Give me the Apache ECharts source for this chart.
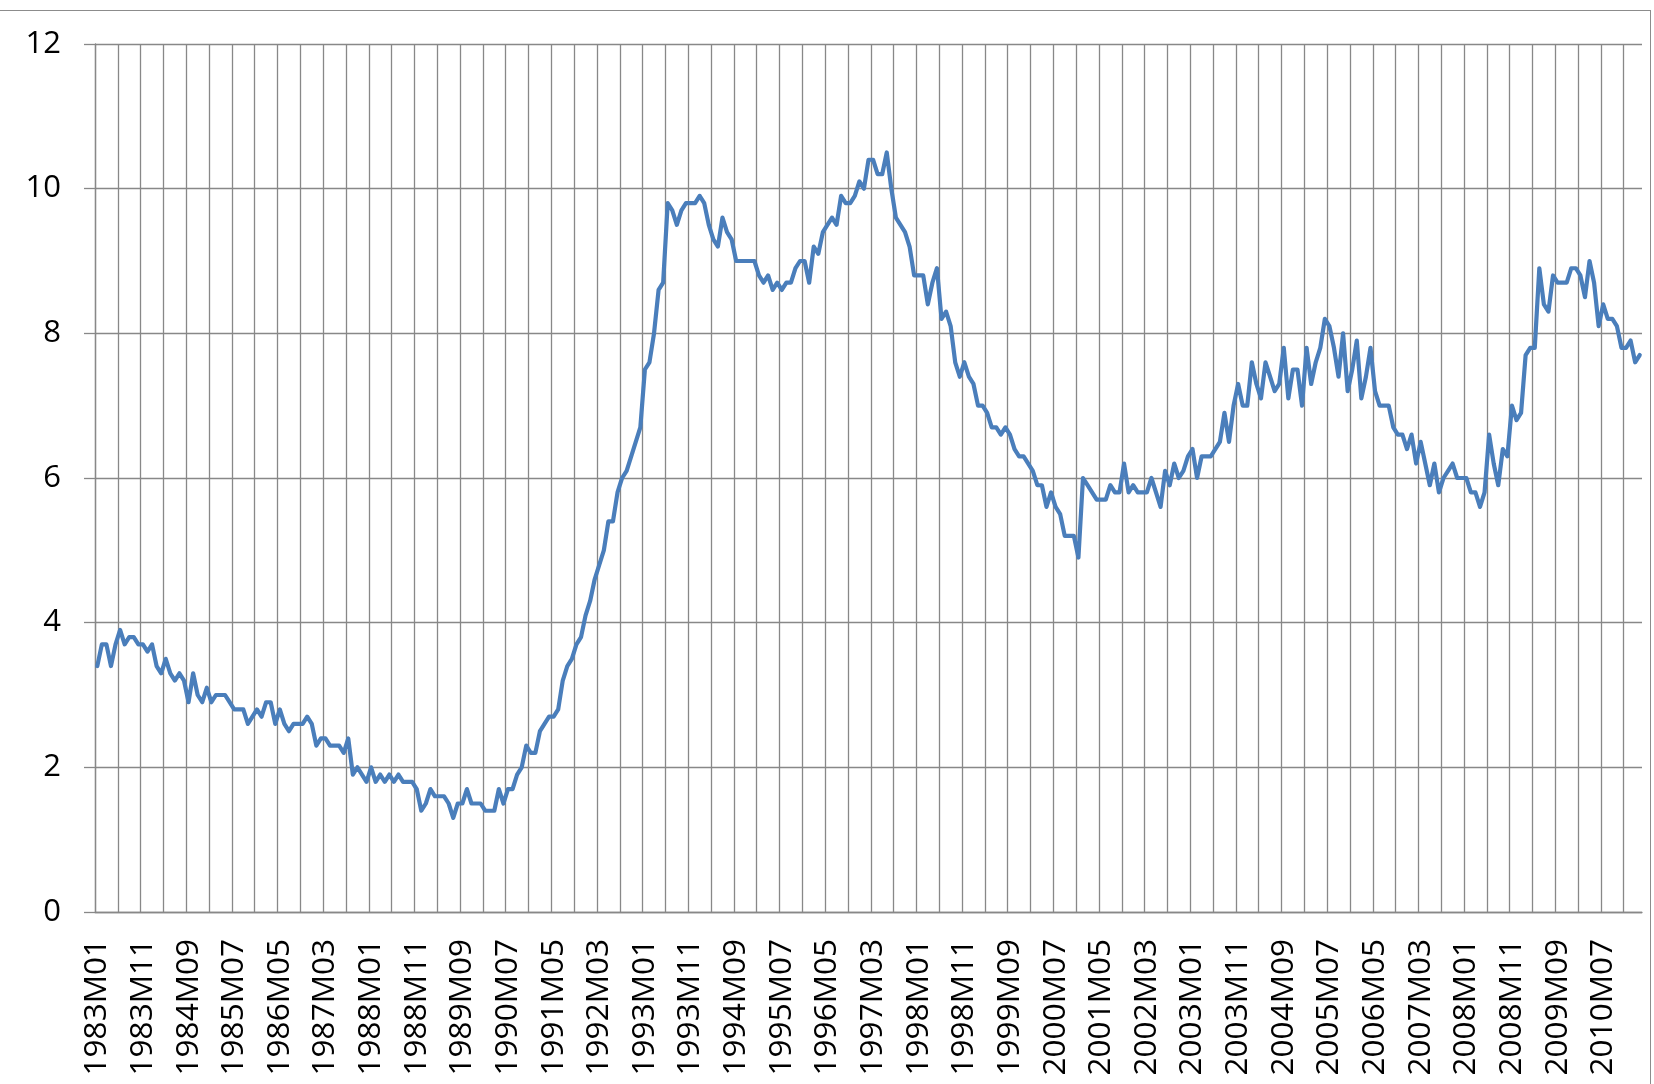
<!DOCTYPE html>
<html><head><meta charset="utf-8">
<script src="https://cdn.jsdelivr.net/npm/echarts@6/dist/echarts.min.js"></script>
<style>
html,body{margin:0;padding:0;background:#fff;overflow:hidden;}
#frame{position:absolute;left:-2px;top:10px;width:1653px;height:1100px;border:1px solid #8c8c8c;box-sizing:border-box;}
#chart{position:absolute;left:0;top:0;width:1654px;height:1084px;}
</style></head><body>
<div id="frame"></div><div id="chart"></div>
<script>
// Monthly series, 1983M01 .. 2011M03
const startYear = 1983;
const rate1983 = [3.4,3.7,3.7,3.4,3.7,3.9,3.7,3.8,3.8,3.7,3.7,3.6];
const rate1984 = [3.7,3.4,3.3,3.5,3.3,3.2,3.3,3.2,2.9,3.3,3.0,2.9];
const rate1985 = [3.1,2.9,3.0,3.0,3.0,2.9,2.8,2.8,2.8,2.6,2.7,2.8];
const rate1986 = [2.7,2.9,2.9,2.6,2.8,2.6,2.5,2.6,2.6,2.6,2.7,2.6];
const rate1987 = [2.3,2.4,2.4,2.3,2.3,2.3,2.2,2.4,1.9,2.0,1.9,1.8];
const rate1988 = [2.0,1.8,1.9,1.8,1.9,1.8,1.9,1.8,1.8,1.8,1.7,1.4];
const rate1989 = [1.5,1.7,1.6,1.6,1.6,1.5,1.3,1.5,1.5,1.7,1.5,1.5];
const rate1990 = [1.5,1.4,1.4,1.4,1.7,1.5,1.7,1.7,1.9,2.0,2.3,2.2];
const rate1991 = [2.2,2.5,2.6,2.7,2.7,2.8,3.2,3.4,3.5,3.7,3.8,4.1];
const rate1992 = [4.3,4.6,4.8,5.0,5.4,5.4,5.8,6.0,6.1,6.3,6.5,6.7];
const rate1993 = [7.5,7.6,8.0,8.6,8.7,9.8,9.7,9.5,9.7,9.8,9.8,9.8];
const rate1994 = [9.9,9.8,9.5,9.3,9.2,9.6,9.4,9.3,9.0,9.0,9.0,9.0];
const rate1995 = [9.0,8.8,8.7,8.8,8.6,8.7,8.6,8.7,8.7,8.9,9.0,9.0];
const rate1996 = [8.7,9.2,9.1,9.4,9.5,9.6,9.5,9.9,9.8,9.8,9.9,10.1];
const rate1997 = [10.0,10.4,10.4,10.2,10.2,10.5,10.0,9.6,9.5,9.4,9.2,8.8];
const rate1998 = [8.8,8.8,8.4,8.7,8.9,8.2,8.3,8.1,7.6,7.4,7.6,7.4];
const rate1999 = [7.3,7.0,7.0,6.9,6.7,6.7,6.6,6.7,6.6,6.4,6.3,6.3];
const rate2000 = [6.2,6.1,5.9,5.9,5.6,5.8,5.6,5.5,5.2,5.2,5.2,4.9];
const rate2001 = [6.0,5.9,5.8,5.7,5.7,5.7,5.9,5.8,5.8,6.2,5.8,5.9];
const rate2002 = [5.8,5.8,5.8,6.0,5.8,5.6,6.1,5.9,6.2,6.0,6.1,6.3];
const rate2003 = [6.4,6.0,6.3,6.3,6.3,6.4,6.5,6.9,6.5,7.0,7.3,7.0];
const rate2004 = [7.0,7.6,7.3,7.1,7.6,7.4,7.2,7.3,7.8,7.1,7.5,7.5];
const rate2005 = [7.0,7.8,7.3,7.6,7.8,8.2,8.1,7.8,7.4,8.0,7.2,7.5];
const rate2006 = [7.9,7.1,7.4,7.8,7.2,7.0,7.0,7.0,6.7,6.6,6.6,6.4];
const rate2007 = [6.6,6.2,6.5,6.2,5.9,6.2,5.8,6.0,6.1,6.2,6.0,6.0];
const rate2008 = [6.0,5.8,5.8,5.6,5.8,6.6,6.2,5.9,6.4,6.3,7.0,6.8];
const rate2009 = [6.9,7.7,7.8,7.8,8.9,8.4,8.3,8.8,8.7,8.7,8.7,8.9];
const rate2010 = [8.9,8.8,8.5,9.0,8.7,8.1,8.4,8.2,8.2,8.1,7.8,7.8];
const rate2011 = [7.9,7.6,7.7];

const yearlyRates = [rate1983,rate1984,rate1985,rate1986,rate1987,rate1988,rate1989,rate1990,
  rate1991,rate1992,rate1993,rate1994,rate1995,rate1996,rate1997,rate1998,rate1999,rate2000,
  rate2001,rate2002,rate2003,rate2004,rate2005,rate2006,rate2007,rate2008,rate2009,rate2010,rate2011];

const categories = [];
const values = [];
yearlyRates.forEach(function (arr, yi) {
  arr.forEach(function (v, mi) {
    categories.push((startYear + yi) + 'M' + String(mi + 1).padStart(2, '0'));
    values.push(v);
  });
});

const yTicks = {min: 0, max: 12, step: 2};

const gridColor = '#888888';
const fontFam = '"Open Sans", "Noto Sans", sans-serif';
const chart = echarts.init(document.getElementById('chart'), null, {renderer: 'canvas'});
chart.setOption({
  animation: false,
  backgroundColor: 'transparent',
  grid: {left: 95, right: 12, top: 44, bottom: 172, containLabel: false},
  xAxis: {
    type: 'category', data: categories, boundaryGap: true,
    axisLine: {show: true, lineStyle: {color: gridColor, width: 1.3}},
    axisTick: {show: false},
    axisLabel: {interval: 9, rotate: 90, margin: 27, fontSize: 31.5, fontFamily: fontFam, color: '#000'},
    splitLine: {show: true, interval: 4, showMaxLine: false, lineStyle: {color: gridColor, width: 1.3}}
  },
  yAxis: {
    type: 'value', min: yTicks.min, max: yTicks.max, interval: yTicks.step,
    axisLine: {show: true, lineStyle: {color: gridColor, width: 1.3}},
    axisTick: {show: true, length: 11, lineStyle: {color: gridColor, width: 1.3}},
    axisLabel: {margin: 34, fontSize: 31, fontFamily: fontFam, color: '#000'},
    splitLine: {show: true, lineStyle: {color: gridColor, width: 1.3}}
  },
  series: [{
    type: 'line', data: values, symbol: 'none', showSymbol: false,
    lineStyle: {color: '#4A7EBB', width: 4.2, join: 'round', cap: 'round'}
  }]
});
</script>
</body></html>
